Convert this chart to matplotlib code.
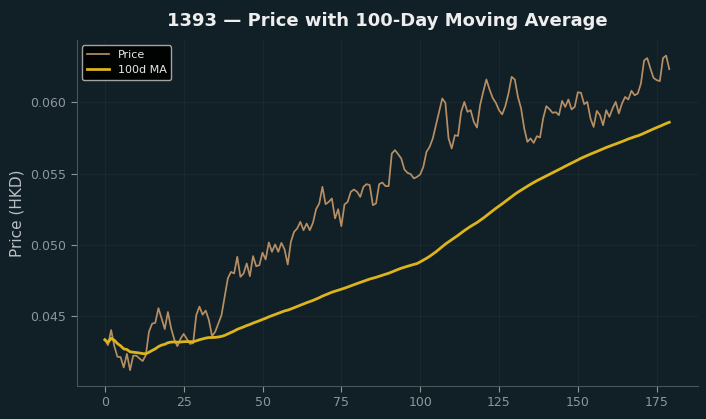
import matplotlib
matplotlib.use("Agg")
import matplotlib.pyplot as plt
import numpy as np
import pandas as pd

title = "1393 — Price with 100-Day Moving Average"
ylabel = "Price (HKD)"
ma_window = 100

price = [
    0.04332, 0.04294, 0.04400, 0.04288, 0.04212, 0.04210, 0.04137, 0.04233, 0.04118, 0.04220,
    0.04220, 0.04200, 0.04182, 0.04224, 0.04388, 0.04445, 0.04451, 0.04554, 0.04482, 0.04407,
    0.04527, 0.04415, 0.04335, 0.04287, 0.04338, 0.04373, 0.04338, 0.04303, 0.04308, 0.04505,
    0.04565, 0.04508, 0.04537, 0.04470, 0.04357, 0.04388, 0.04447, 0.04505, 0.04634, 0.04763,
    0.04809, 0.04798, 0.04915, 0.04774, 0.04798, 0.04868, 0.04779, 0.04920, 0.04849, 0.04856,
    0.04944, 0.04896, 0.05016, 0.04950, 0.05002, 0.04950, 0.05013, 0.04967, 0.04861, 0.05020,
    0.05090, 0.05114, 0.05161, 0.05102, 0.05149, 0.05102, 0.05154, 0.05250, 0.05290, 0.05407,
    0.05285, 0.05301, 0.05325, 0.05185, 0.05250, 0.05130, 0.05283, 0.05301, 0.05372, 0.05388,
    0.05372, 0.05336, 0.05407, 0.05426, 0.05419, 0.05278, 0.05290, 0.05426, 0.05437, 0.05412,
    0.05412, 0.05641, 0.05665, 0.05637, 0.05606, 0.05529, 0.05505, 0.05496, 0.05466, 0.05477,
    0.05494, 0.05547, 0.05653, 0.05688, 0.05747, 0.05840, 0.05934, 0.06028, 0.05997, 0.05747,
    0.05677, 0.05770, 0.05765, 0.05934, 0.06004, 0.05934, 0.05946, 0.05864, 0.05824, 0.05981,
    0.06075, 0.06162, 0.06091, 0.06032, 0.05997, 0.05946, 0.05916, 0.05974, 0.06063, 0.06180,
    0.06162, 0.06039, 0.05958, 0.05817, 0.05723, 0.05747, 0.05716, 0.05763, 0.05754, 0.05888,
    0.05974, 0.05953, 0.05927, 0.05932, 0.05911, 0.06011, 0.05969, 0.06021, 0.05951, 0.05969,
    0.06072, 0.06068, 0.05988, 0.06004, 0.05888, 0.05828, 0.05941, 0.05911, 0.05840, 0.05946,
    0.05899, 0.05958, 0.06004, 0.05923, 0.05993, 0.06039, 0.06021, 0.06082, 0.06051, 0.06063,
    0.06133, 0.06295, 0.06312, 0.06239, 0.06173, 0.06157, 0.06150, 0.06312, 0.06330, 0.06234,
]

days = np.arange(len(price))
ma = pd.Series(price).rolling(ma_window, min_periods=1).mean()

bg = "#111f26"
fig = plt.figure(figsize=(7.06, 4.19), dpi=100, facecolor=bg)
ax = fig.add_axes([0.1085, 0.079, 0.8795, 0.826])
ax.set_facecolor(bg)

ax.plot(days, price, color="#c99b6c", linewidth=1.25, alpha=0.9, label="Price")
ax.plot(days, ma, color="#dcb41c", linewidth=2.0, label="100d MA")

ax.grid(True, color="#ffffff", alpha=0.04, linewidth=0.8)
for s in ["top", "right"]:
    ax.spines[s].set_visible(False)
for s in ["left", "bottom"]:
    ax.spines[s].set_color("#4a5558")
ax.tick_params(colors="#8c979b", labelsize=9, length=4)
ax.set_xticks([0, 25, 50, 75, 100, 125, 150, 175])
ax.set_yticks([0.045, 0.050, 0.055, 0.060])
ax.yaxis.set_major_formatter(matplotlib.ticker.FormatStrFormatter("%.3f"))
ax.set_ylabel(ylabel, color="#b8c0c3", fontsize=11)
ax.set_title(title, color="#eeeeee", fontsize=13, fontweight="bold", pad=10)

leg = ax.legend(loc="upper left", fontsize=8, facecolor="#000000",
                edgecolor="#b4b4b4", framealpha=0.9)
for t in leg.get_texts():
    t.set_color("#e8e8e8")

fig.savefig("out.png", dpi=100, facecolor=bg)
